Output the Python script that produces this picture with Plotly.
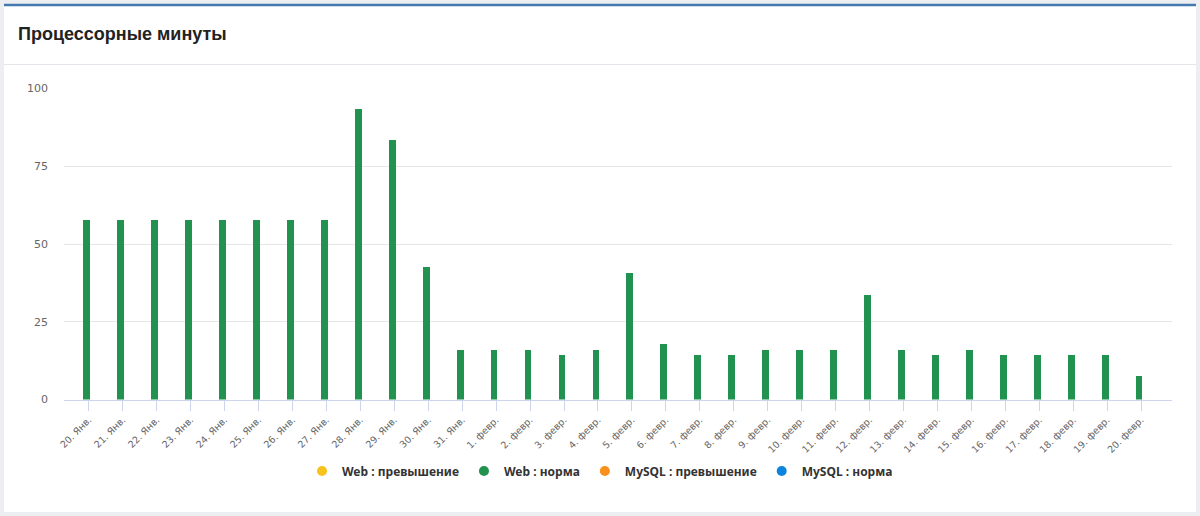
import plotly.graph_objects as go

W, H = 1200, 516

categories = ["20. Янв.", "21. Янв.", "22. Янв.", "23. Янв.", "24. Янв.", "25. Янв.",
              "26. Янв.", "27. Янв.", "28. Янв.", "29. Янв.", "30. Янв.", "31. Янв.",
              "1. февр.", "2. февр.", "3. февр.", "4. февр.", "5. февр.", "6. февр.",
              "7. февр.", "8. февр.", "9. февр.", "10. февр.", "11. февр.", "12. февр.",
              "13. февр.", "14. февр.", "15. февр.", "16. февр.", "17. февр.", "18. февр.",
              "19. февр.", "20. февр."]
web_norm = [58, 58, 58, 58, 58, 58, 58, 58, 93.7, 83.7, 42.7, 16,
            16, 16, 14.6, 16, 40.9, 17.9, 14.6, 14.6, 16, 16, 16, 33.8,
            16, 14.6, 16, 14.6, 14.6, 14.6, 14.6, 7.8]
y_ticks = [0, 25, 50, 75, 100]

series_names = ["Web : превышение", "Web : норма", "MySQL : превышение", "MySQL : норма"]
series_colors = ["#f8c21c", "#21924f", "#f7901e", "#0b84dc"]

def px_x(p):
    return p / W

def px_y(p):
    return 1 - p / H

fig = go.Figure()
fig.add_trace(go.Bar(x=list(range(len(categories))), y=web_norm, marker_color=series_colors[1],
                     marker_line_width=0, width=0.2, offset=-0.16, showlegend=False,
                     name=series_names[1]))
for name, col in zip(series_names, series_colors):
    fig.add_trace(go.Scatter(x=[None], y=[None], mode="markers", name=name,
                             marker=dict(color=col, size=10, symbol="circle")))

shapes = [
    dict(type="rect", xref="paper", yref="paper", x0=px_x(4), x1=px_x(1196), y0=px_y(512), y1=px_y(5),
         fillcolor="white", line=dict(width=0), layer="below"),
    dict(type="line", xref="paper", yref="paper", x0=px_x(4), x1=px_x(1196), y0=px_y(5), y1=px_y(5),
         line=dict(color="#4479b0", width=2.5), layer="below"),
    dict(type="line", xref="paper", yref="paper", x0=px_x(4), x1=px_x(1196), y0=px_y(64.5), y1=px_y(64.5),
         line=dict(color="#e3e5ea", width=1), layer="below"),
]

fig.update_layout(
    autosize=True,
    margin=dict(l=0, r=0, t=0, b=0, pad=0),
    paper_bgcolor="#eceef2",
    plot_bgcolor="rgba(0,0,0,0)",
    shapes=shapes,
    bargap=0,
    annotations=[dict(text="<b>Процессорные минуты</b>", xref="paper", yref="paper",
                      x=px_x(16), y=px_y(34), xanchor="left", yanchor="middle", showarrow=False,
                      font=dict(family="Liberation Sans, Arial", size=18, color="#222222"))],
    xaxis=dict(
        domain=[px_x(64), px_x(1172)],
        range=[-0.73, 31.91],
        tickmode="array", tickvals=list(range(len(categories))), ticktext=categories,
        tickangle=-45, ticks="outside", ticklen=10, tickcolor="#ccd6eb", tickwidth=1,
        showline=True, linecolor="#ccd6eb", linewidth=1,
        showgrid=False, zeroline=False, automargin=False,
        tickfont=dict(family="DejaVu Sans", size=9.5, color="#666666"),
    ),
    yaxis=dict(
        domain=[px_y(399.5), px_y(88.5)],
        range=[0, 100],
        tickmode="array", tickvals=y_ticks,
        showgrid=True, gridcolor="#e6e6e6", gridwidth=1, zeroline=False,
        showline=False, ticks="", ticklabelstandoff=15, automargin=False,
        tickfont=dict(family="DejaVu Sans", size=11, color="#666666"),
    ),
    legend=dict(orientation="h", x=0.5, xanchor="center", y=px_y(471), yanchor="middle",
                font=dict(family="Noto Sans", size=12, color="#333333", weight="bold"),
                bgcolor="rgba(0,0,0,0)", itemwidth=30, tracegroupgap=0),
)

post = (
    "document.documentElement.style.margin='0';document.documentElement.style.padding='0';"
    "document.documentElement.style.overflow='hidden';"
    "document.body.style.margin='0';document.body.style.padding='0';"
    "document.body.style.overflow='hidden';"
    "var gd=document.getElementById('{plot_id}');"
    "gd.style.position='fixed';gd.style.left='0';gd.style.top='0';"
    "gd.style.width='100vw';gd.style.height='100vh';"
    "Plotly.Plots.resize(gd);"
)

fig.write_html("out.html", config={"displayModeBar": False, "responsive": True},
               default_width="100vw", default_height="100vh", post_script=post)
